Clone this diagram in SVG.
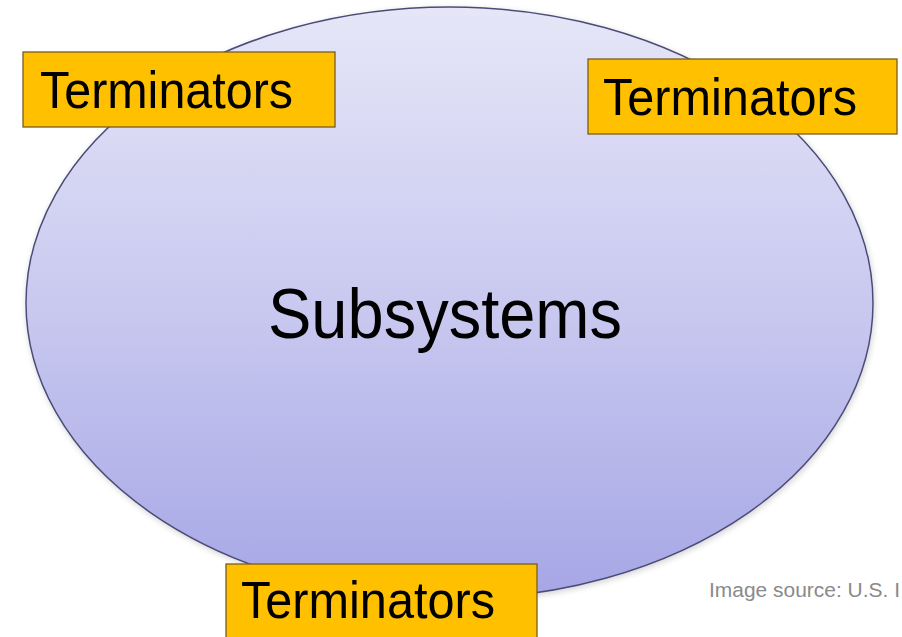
<svg xmlns="http://www.w3.org/2000/svg" width="902" height="637" viewBox="0 0 902 637">
  <style>
    .term rect { fill: #ffc000; stroke: #7a5c1e; stroke-width: 1.3; }
    .term text { font-family: "Liberation Sans", Arial, sans-serif; font-size: 52px; fill: #000; }
    .big { font-family: "Liberation Sans", Arial, sans-serif; font-size: 70px; fill: #000; }
    .credit { font-family: "Liberation Sans", Arial, sans-serif; font-size: 20px; fill: #8a8a8a; }
  </style>
  <defs>
    <linearGradient id="sysFill" x1="0" y1="0" x2="0" y2="1">
      <stop offset="0" stop-color="#e6e6f8"/>
      <stop offset="0.5" stop-color="#c9c9f0"/>
      <stop offset="1" stop-color="#a6a6e6"/>
    </linearGradient>
    <filter id="soft" x="-5%" y="-5%" width="110%" height="112%">
      <feGaussianBlur in="SourceAlpha" stdDeviation="3"/>
      <feOffset dx="1" dy="2" result="b"/>
      <feComponentTransfer><feFuncA type="linear" slope="0.18"/></feComponentTransfer>
      <feMerge><feMergeNode/><feMergeNode in="SourceGraphic"/></feMerge>
    </filter>
  </defs>
  <rect width="902" height="637" fill="#ffffff"/>

  <g id="subsystems">
    <ellipse cx="449.5" cy="303" rx="423.5" ry="296" fill="url(#sysFill)" stroke="#4c4c78" stroke-width="1.5" filter="url(#soft)"/>
    <text class="big" x="268" y="338" textLength="354" lengthAdjust="spacingAndGlyphs">Subsystems</text>
  </g>

  <g id="terminator-top-left" class="term">
    <rect x="23" y="52" width="312" height="75"/>
    <text x="40" y="108" textLength="253" lengthAdjust="spacingAndGlyphs">Terminators</text>
  </g>

  <g id="terminator-top-right" class="term">
    <rect x="588" y="59" width="309" height="75"/>
    <text x="603" y="115" textLength="254" lengthAdjust="spacingAndGlyphs">Terminators</text>
  </g>

  <g id="terminator-bottom" class="term">
    <rect x="226" y="564" width="311" height="82"/>
    <text x="241" y="618" textLength="254" lengthAdjust="spacingAndGlyphs">Terminators</text>
  </g>

  <g id="connectors"/>

  <text class="credit" x="709" y="597" textLength="191" lengthAdjust="spacingAndGlyphs">Image source: U.S. I</text>
</svg>
